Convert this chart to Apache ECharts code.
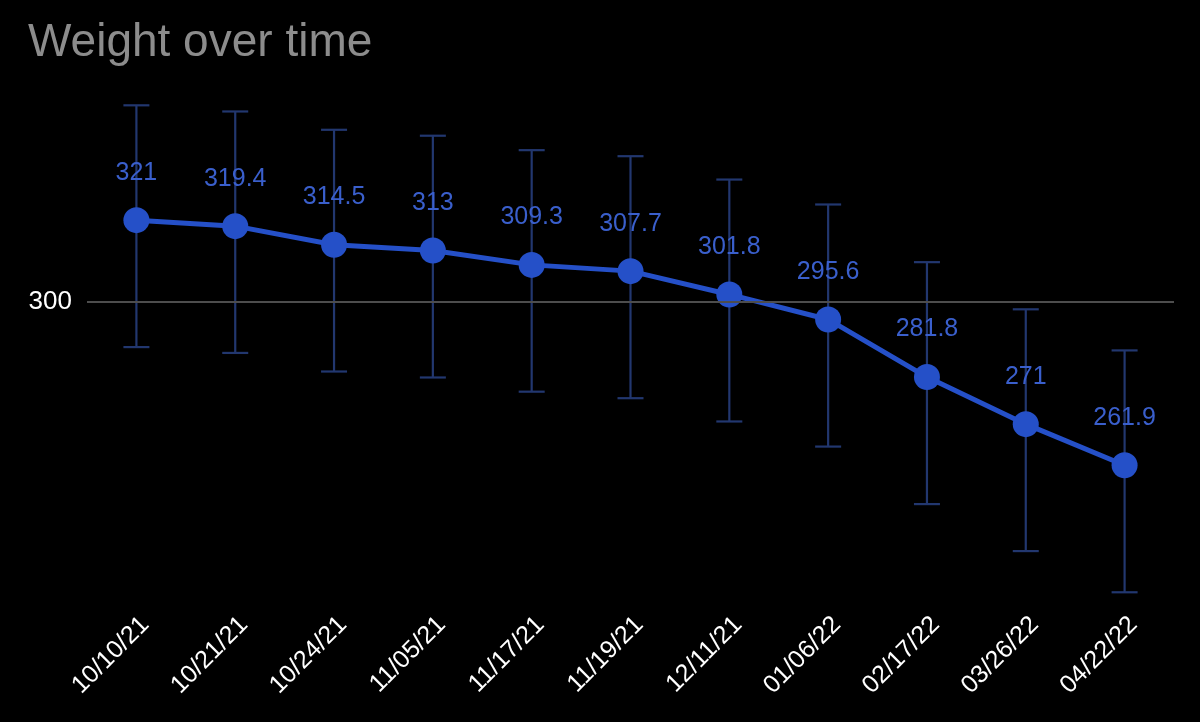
<!DOCTYPE html>
<html>
<head>
<meta charset="utf-8">
<script src="https://cdn.jsdelivr.net/npm/echarts@6/dist/echarts.min.js"></script>
<style>
html,body{margin:0;padding:0;background:#000;}
#chart{width:1200px;height:722px;}
</style>
</head>
<body>
<div id="chart"></div>
<script>
// Data
const dates = ['10/10/21','10/21/21','10/24/21','11/05/21','11/17/21','11/19/21','12/11/21','01/06/22','02/17/22','03/26/22','04/22/22'];
const weights = [321, 319.4, 314.5, 313, 309.3, 307.7, 301.8, 295.6, 281.8, 271, 261.9];
const errHigh = [353.1, 351.3, 346.0, 344.3, 340.2, 338.5, 332.0, 325.2, 310.0, 298.1, 288.1];
const errLow = [288.9, 287.5, 283.1, 281.7, 278.4, 276.9, 271.6, 266.0, 253.6, 243.9, 235.7];
const refLine = 300;

const FONT = '"Liberation Sans", Arial, sans-serif';
const chart = echarts.init(document.getElementById('chart'));

const errData = dates.map((d, i) => [i, errHigh[i], errLow[i]]);

chart.setOption({
  backgroundColor: '#000',
  animation: false,
  title: {
    text: 'Weight over time',
    left: 28, top: 20, padding: 0,
    textStyle: { color: '#8c8c8c', fontSize: 46, fontWeight: 'normal', fontFamily: FONT }
  },
  grid: { left: 87, right: 26, top: 82, bottom: 121 },
  xAxis: {
    type: 'category',
    data: dates,
    boundaryGap: true,
    axisLine: { show: false },
    axisTick: { show: false },
    axisLabel: { rotate: 45, color: '#ffffff', fontSize: 25, fontFamily: FONT, margin: 11, interval: 0, verticalAlign: 'top' }
  },
  yAxis: {
    type: 'log',
    min: 234, max: 360,
    axisLine: { show: false },
    axisTick: { show: false },
    axisLabel: { show: false },
    splitLine: { show: false }
  },
  series: [
    {
      type: 'line',
      data: [],
      z: 1,
      silent: true,
      markLine: {
        silent: true,
        symbol: ['none', 'none'],
        lineStyle: { color: '#4d4d4d', type: 'solid', width: 2 },
        label: { position: 'start', formatter: String(refLine), color: '#ffffff', fontSize: 26, fontFamily: FONT, distance: 15 },
        data: [{ yAxis: refLine }]
      }
    },
    {
      type: 'custom',
      z: 2,
      silent: true,
      data: errData,
      renderItem: function (params, api) {
        const i = api.value(0);
        const top = api.coord([i, api.value(1)]);
        const bot = api.coord([i, api.value(2)]);
        const hw = 13;
        const style = { stroke: '#22376f', lineWidth: 2.2 };
        return {
          type: 'group',
          children: [
            { type: 'line', shape: { x1: top[0], y1: top[1], x2: bot[0], y2: bot[1] }, style: style },
            { type: 'line', shape: { x1: top[0] - hw, y1: top[1], x2: top[0] + hw, y2: top[1] }, style: style },
            { type: 'line', shape: { x1: bot[0] - hw, y1: bot[1], x2: bot[0] + hw, y2: bot[1] }, style: style }
          ]
        };
      }
    },
    {
      type: 'line',
      z: 3,
      data: weights,
      symbol: 'circle',
      symbolSize: 26,
      lineStyle: { color: '#2550c8', width: 5 },
      itemStyle: { color: '#2550c8' },
      label: {
        show: true, position: 'top', distance: 22,
        color: '#3a5fcc', fontSize: 25, fontFamily: FONT
      }
    }
  ]
});
</script>
</body>
</html>
